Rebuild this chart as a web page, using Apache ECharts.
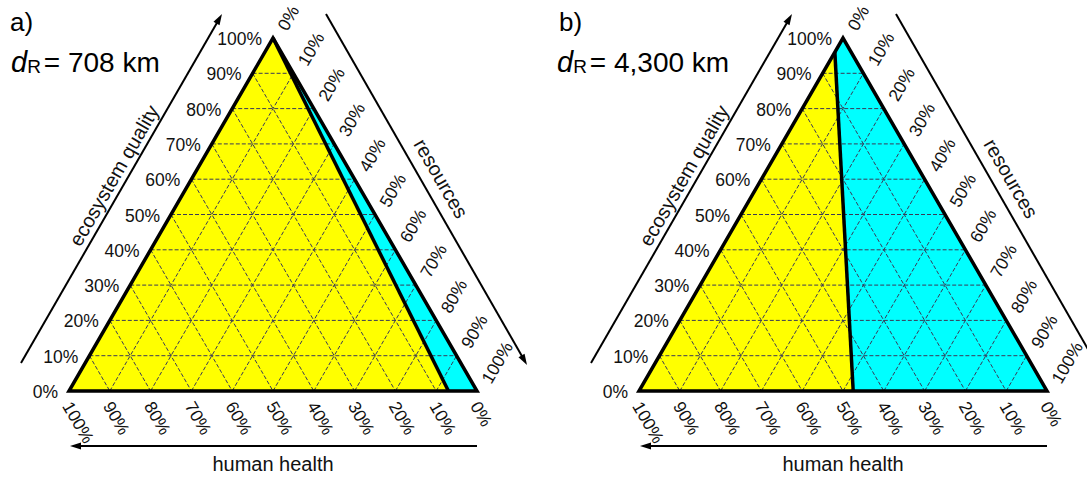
<!DOCTYPE html>
<html><head><meta charset="utf-8">
<script src="https://cdn.jsdelivr.net/npm/echarts@6/dist/echarts.min.js"></script>
<style>html,body{margin:0;padding:0;background:#fff}#c{width:1087px;height:477px}</style>
</head><body><div id="c"></div>
<script>
// ---- data ----
const tickValues = [0, 10, 20, 30, 40, 50, 60, 70, 80, 90, 100];
const tickLabels = ['0%', '10%', '20%', '30%', '40%', '50%', '60%', '70%', '80%', '90%', '100%'];
const gridLevels = [10, 20, 30, 40, 50, 60, 70, 80, 90];
const axisTitles = ['human health', 'ecosystem quality', 'resources'];
const panelLetters = ['a)', 'b)'];
const panelDistances = ['= 708 km', '= 4,300 km'];
// boundary end points between yellow and cyan regions, [human health, ecosystem quality, resources] in %
const boundaryTopA = [0, 100, 0];
const boundaryBottomA = [7, 0, 93];
const boundaryTopB = [4, 96, 0];
const boundaryBottomB = [47.5, 0, 52.5];

const boundaries = [[boundaryTopA, boundaryBottomA], [boundaryTopB, boundaryBottomB]];
const FONT = '"Liberation Sans", Arial, sans-serif';

function tern(api, t, dx, dy) {
  const p = api.coord([(t[2] + t[1] / 2) / 100, t[1] / 100]);
  return [p[0] + (dx || 0), p[1] + (dy || 0)];
}
function arrow(A, B) {
  const dx = B[0] - A[0], dy = B[1] - A[1];
  const len = Math.sqrt(dx * dx + dy * dy);
  const ux = dx / len, uy = dy / len, nx = -uy, ny = ux;
  const L = 11, W = 3.5;
  const base = [B[0] - ux * L, B[1] - uy * L];
  return [
    { type: 'line', shape: { x1: A[0], y1: A[1], x2: B[0] - ux * 6, y2: B[1] - uy * 6 }, style: { stroke: '#000', lineWidth: 2 } },
    { type: 'polygon', shape: { points: [B, [base[0] + nx * W, base[1] + ny * W], [base[0] - nx * W, base[1] - ny * W]] }, style: { fill: '#000' } }
  ];
}

const series = [];
[0, 1].forEach(p => {
  const ax = { xAxisIndex: p, yAxisIndex: p, type: 'custom', clip: false, silent: true, animation: false };
  // regions
  series.push(Object.assign({}, ax, {
    data: [[0, 0]],
    renderItem: (params, api) => {
      const top = boundaries[p][0], bot = boundaries[p][1];
      const HHv = tern(api, [100, 0, 0]), EQv = tern(api, [0, 100, 0]), REv = tern(api, [0, 0, 100]);
      const T = tern(api, top), B = tern(api, bot);
      return { type: 'group', children: [
        { type: 'polygon', shape: { points: [HHv, B, T] }, style: { fill: '#ffff00' } },
        { type: 'polygon', shape: { points: [B, REv, EQv, T] }, style: { fill: '#00ffff' } }
      ] };
    }
  }));
  // dashed grid
  series.push(Object.assign({}, ax, {
    data: gridLevels.map(v => [v, 0]),
    renderItem: (params, api) => {
      const L = api.value(0);
      const segs = [
        [[100 - L, L, 0], [0, L, 100 - L]],
        [[L, 100 - L, 0], [L, 0, 100 - L]],
        [[100 - L, 0, L], [0, 100 - L, L]]
      ];
      return { type: 'group', children: segs.map(s => {
        const a = tern(api, s[0]), b = tern(api, s[1]);
        return { type: 'line', shape: { x1: a[0], y1: a[1], x2: b[0], y2: b[1] }, style: { stroke: '#3a3a58', lineWidth: 1, lineDash: [4, 2] } };
      }) };
    }
  }));
  // frame + boundary
  series.push(Object.assign({}, ax, {
    data: [[0, 0]],
    renderItem: (params, api) => {
      const top = boundaries[p][0], bot = boundaries[p][1];
      const HHv = tern(api, [100, 0, 0]), EQv = tern(api, [0, 100, 0]), REv = tern(api, [0, 0, 100]);
      const T = tern(api, top), B = tern(api, bot);
      return { type: 'group', children: [
        { type: 'polyline', shape: { points: [B, T] }, style: { stroke: '#000', lineWidth: 3.5, fill: null } },
        { type: 'polygon', shape: { points: [HHv, REv, EQv] }, style: { stroke: '#000', lineWidth: 3.5, fill: null, lineJoin: 'miter' } }
      ] };
    }
  }));
  // tick labels
  series.push(Object.assign({}, ax, {
    data: tickValues.map((v, i) => [v, i]),
    renderItem: (params, api) => {
      const v = api.value(0), lab = tickLabels[api.value(1)];
      const l = tern(api, [100 - v, v, 0]);
      const b = tern(api, [v, 0, 100 - v]);
      const r = tern(api, [0, 100 - v, v]);
      const font = '17.5px ' + FONT;
      return { type: 'group', children: [
        { type: 'text', x: l[0] - 11, y: l[1] + 1, style: { text: lab, font, fill: '#111', align: 'right', verticalAlign: 'middle' } },
        { type: 'text', x: b[0] - 2, y: b[1] + 12, rotation: -Math.PI / 3, style: { text: lab, font, fill: '#111', align: 'left', verticalAlign: 'middle' } },
        { type: 'text', x: r[0] + 9, y: r[1] - 9, rotation: Math.PI / 3, style: { text: lab, font, fill: '#111', align: 'left', verticalAlign: 'middle' } }
      ] };
    }
  }));
  // axis arrows + titles
  series.push(Object.assign({}, ax, {
    data: [[0, 0]],
    renderItem: (params, api) => {
      const HHv = tern(api, [100, 0, 0]), EQv = tern(api, [0, 100, 0]), REv = tern(api, [0, 0, 100]);
      const lm = tern(api, [50, 50, 0]), rm = tern(api, [0, 50, 50]), bm = tern(api, [50, 0, 50]);
      const font = '20px ' + FONT;
      const ch = []
        .concat(arrow([HHv[0] - 48, HHv[1] - 28], [EQv[0] - 51, EQv[1] - 24]))
        .concat(arrow([EQv[0] + 53, EQv[1] - 24], [REv[0] + 50, REv[1] - 26]))
        .concat(arrow([REv[0], REv[1] + 55], [HHv[0] + 1, HHv[1] + 55]));
      ch.push({ type: 'text', x: lm[0] - 57, y: lm[1] - 39, rotation: Math.PI / 3, style: { text: axisTitles[1], font, fill: '#111', align: 'center', verticalAlign: 'middle' } });
      ch.push({ type: 'text', x: rm[0] + 66, y: rm[1] - 36, rotation: -Math.PI / 3, style: { text: axisTitles[2], font, fill: '#111', align: 'center', verticalAlign: 'middle' } });
      ch.push({ type: 'text', x: bm[0], y: bm[1] + 73, style: { text: axisTitles[0], font, fill: '#111', align: 'center', verticalAlign: 'middle' } });
      return { type: 'group', children: ch };
    }
  }));
});

const titleRich = {
  d: { fontFamily: FONT, fontSize: 29, fontStyle: 'italic', color: '#000', verticalAlign: 'bottom', lineHeight: 32 },
  r: { fontFamily: FONT, fontSize: 19, color: '#000', verticalAlign: 'bottom', lineHeight: 28, padding: [0, 3, 0, 0] },
  t: { fontFamily: FONT, fontSize: 28, color: '#000', verticalAlign: 'bottom', lineHeight: 32 }
};
const titles = [];
[[10, 11], [559, 557]].forEach((pos, p) => {
  titles.push({ text: panelLetters[p], left: pos[0], top: 9, padding: 0, textStyle: { fontFamily: FONT, fontSize: 26, fontWeight: 'normal', color: '#000' } });
  titles.push({ text: '{d|d}{r|R}{t|' + panelDistances[p] + '}', left: pos[1], top: 44, padding: 0, textStyle: { rich: titleRich, fontWeight: 'normal' } });
});

const chart = echarts.init(document.getElementById('c'), null, { renderer: 'svg' });
chart.setOption({
  animation: false,
  title: titles,
  grid: [
    { left: 69, top: 38, width: 408, height: 353 },
    { left: 639, top: 38, width: 408, height: 353 }
  ],
  xAxis: [0, 1].map(i => ({ type: 'value', gridIndex: i, min: 0, max: 1, show: false })),
  yAxis: [0, 1].map(i => ({ type: 'value', gridIndex: i, min: 0, max: 1, show: false })),
  series
});
</script></body></html>
